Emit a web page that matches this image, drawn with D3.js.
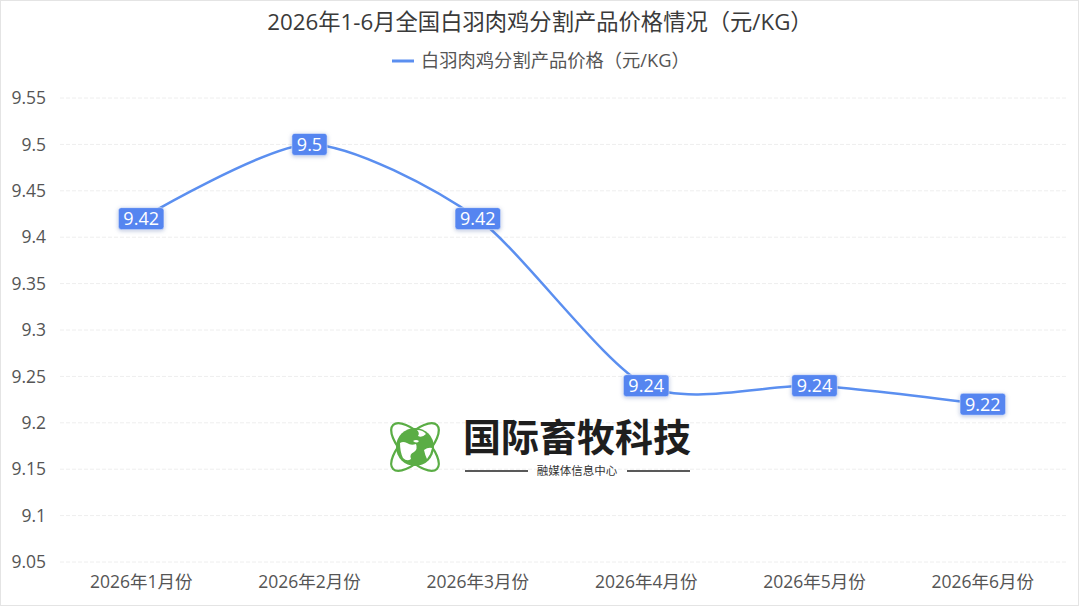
<!DOCTYPE html>
<html>
<head>
<meta charset="utf-8">
<script src="https://cdn.jsdelivr.net/npm/d3@7"></script>
<style>
  body { margin: 0; background: #fff; }
  svg { display: block; font-family: "Open Sans", "Noto Sans CJK SC", sans-serif; }
</style>
</head>
<body>
<svg id="chart" width="1080" height="608"></svg>
<script>
const width = 1080;
const height = 608;

const titleText = "2026年1-6月全国白羽肉鸡分割产品价格情况（元/KG）";
const seriesName = "白羽肉鸡分割产品价格（元/KG）";
const months = ["2026年1月份", "2026年2月份", "2026年3月份", "2026年4月份", "2026年5月份", "2026年6月份"];
const prices = [9.42, 9.5, 9.42, 9.24, 9.24, 9.22];
const yTicks = [9.05, 9.1, 9.15, 9.2, 9.25, 9.3, 9.35, 9.4, 9.45, 9.5, 9.55];

const blue = "#5b8ff0";
const labelBlue = "#5585f0";
const fontStack = "\"Open Sans\", \"Noto Sans CJK SC\", sans-serif";
const margin = {top: 98, right: 13, bottom: 46, left: 57};

const svg = d3.select("#chart");

// frame
svg.append("rect")
  .attr("x", 0.5).attr("y", 0.5)
  .attr("width", width - 2).attr("height", height - 3)
  .attr("fill", "#fff").attr("stroke", "#e4e4e4");

const x = d3.scaleBand()
  .domain(months)
  .range([margin.left, width - margin.right]);

const y = d3.scaleLinear()
  .domain([9.05, 9.55])
  .range([height - margin.bottom, margin.top]);

// grid
svg.append("g")
  .selectAll("line")
  .data(yTicks).enter()
  .append("line")
  .attr("x1", margin.left + 3)
  .attr("x2", width - margin.right)
  .attr("y1", d => y(d))
  .attr("y2", d => y(d))
  .attr("stroke", "#eeeeee")
  .attr("stroke-dasharray", "4,2");

// y axis labels
let yAxis = d3.axisLeft(y).tickValues(yTicks).tickFormat(d => +d.toFixed(2)).tickSize(0).tickPadding(11);
svg.append("g")
  .attr("transform", `translate(${margin.left}, 0)`)
  .call(yAxis)
  .call(g => g.select(".domain").remove())
  .selectAll("text")
  .attr("font-size", 17.5)
  .attr("fill", "#555")
  .attr("font-family", fontStack);

// x axis labels
let xAxis = d3.axisBottom(x).tickSize(0).tickPadding(14);
svg.append("g")
  .attr("transform", `translate(0, ${height - margin.bottom})`)
  .call(xAxis)
  .call(g => g.select(".domain").remove())
  .selectAll("text")
  .attr("font-size", 17.5)
  .attr("fill", "#555")
  .attr("font-family", fontStack);

// title
svg.append("text")
  .attr("x", width / 2).attr("y", 30)
  .attr("text-anchor", "middle")
  .attr("font-size", 22.3)
  .attr("fill", "#3a3a3a")
  .text(titleText);

// legend
svg.append("line")
  .attr("x1", 392).attr("x2", 414)
  .attr("y1", 61).attr("y2", 61)
  .attr("stroke", blue).attr("stroke-width", 3);
svg.append("text")
  .attr("x", 421).attr("y", 67)
  .attr("font-size", 18.3)
  .attr("fill", "#555")
  .text(seriesName);

// watermark logo
const logo = svg.append("g").attr("class", "logo");
const green = "#5aad45";
const cx = 415, cy = 447;
[45, -45].forEach(a => {
  logo.append("ellipse")
    .attr("cx", cx).attr("cy", cy)
    .attr("rx", 31).attr("ry", 13)
    .attr("transform", `rotate(${a}, ${cx}, ${cy})`)
    .attr("fill", "none").attr("stroke", green).attr("stroke-width", 2.2);
});
logo.append("circle")
  .attr("cx", cx).attr("cy", cy).attr("r", 19)
  .attr("fill", green);
logo.append("path")
  .attr("d", `M${cx - 15},${cy - 4} q3,-2 7,0 q4,3 9,1 q2,5 -2,8 q-5,2 -3,7 q-4,3 -8,-1 q-3,-6 -3,-15 z
             M${cx + 2},${cy - 17} q3,3 1,6 q4,2 8,-2 q-3,-4 -9,-4 z
             M${cx + 9},${cy + 3} q4,-3 8,-2 q-1,6 -5,11 q-2,-4 -3,-9 z
             M${cx - 2},${cy - 6} q3,-2 6,0 q-2,3 -6,0 z`)
  .attr("fill", "#fff");
logo.append("text")
  .attr("x", 463).attr("y", 451)
  .attr("font-size", 38).attr("font-weight", 700)
  .attr("fill", "#1e1e1e")
  .attr("font-family", "\"Noto Sans CJK SC\", sans-serif")
  .text("国际畜牧科技");
logo.append("line")
  .attr("x1", 465).attr("x2", 528).attr("y1", 471).attr("y2", 471)
  .attr("stroke", "#222").attr("stroke-width", 1.5);
logo.append("line")
  .attr("x1", 627).attr("x2", 690).attr("y1", 471).attr("y2", 471)
  .attr("stroke", "#222").attr("stroke-width", 1.5);
logo.append("text")
  .attr("x", 577).attr("y", 475)
  .attr("text-anchor", "middle")
  .attr("font-size", 11.5)
  .attr("fill", "#333")
  .attr("font-family", "\"Noto Sans CJK SC\", sans-serif")
  .text("融媒体信息中心");

// line
const data = months.map((m, i) => ({month: m, value: prices[i]}));
let path_generator = d3.line()
  .x(d => x(d.month) + x.bandwidth() / 2)
  .y(d => y(d.value))
  .curve(d3.curveCardinal.tension(0.25));

svg.append("path")
  .datum(data)
  .attr("d", path_generator)
  .attr("fill", "none")
  .attr("stroke", blue)
  .attr("stroke-width", 2.5);

// labels
const labels = svg.append("g")
  .selectAll("g")
  .data(data).enter()
  .append("g")
  .attr("transform", d => `translate(${x(d.month) + x.bandwidth() / 2}, ${y(d.value)})`);

labels.append("text")
  .attr("text-anchor", "middle")
  .attr("dy", "0.36em")
  .attr("font-size", 18)
  .attr("fill", "#fff")
  .text(d => d.value)
  .each(function () {
    const b = this.getBBox();
    d3.select(this.parentNode).insert("rect", "text")
      .attr("x", b.x - 5)
      .attr("y", -11)
      .attr("width", b.width + 10)
      .attr("height", 22)
      .attr("rx", 3)
      .attr("fill", labelBlue)
      .attr("stroke", "#fff")
      .attr("stroke-width", 0.5)
      .style("filter", "drop-shadow(0 1px 2px rgba(60,90,160,0.35))");
  });
</script>
</body>
</html>
